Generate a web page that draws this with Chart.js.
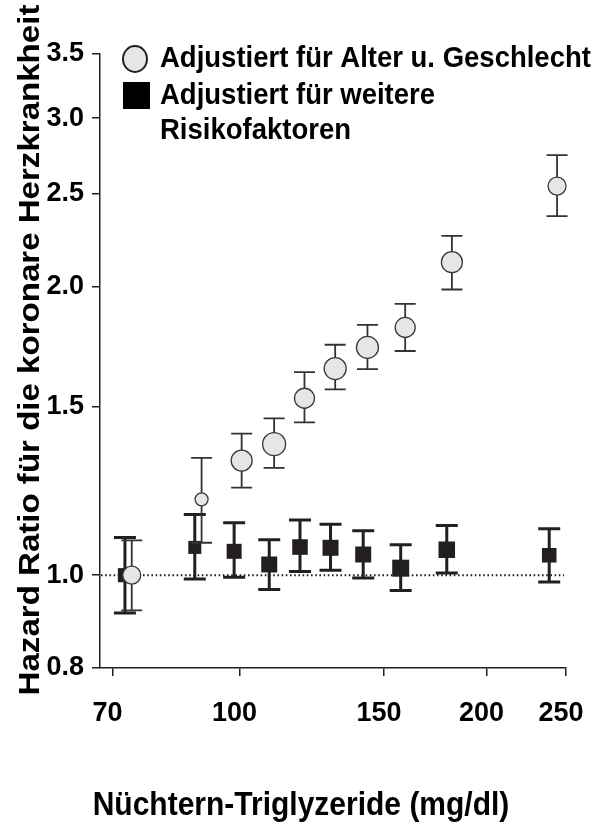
<!DOCTYPE html>
<html>
<head>
<meta charset="utf-8">
<script src="https://cdn.jsdelivr.net/npm/chart.js@4.4.1/dist/chart.umd.min.js"></script>
<style>
  body { margin: 0; background: #fff; }
  canvas { display: block; }
</style>
</head>
<body>
<canvas id="hrChart" width="602" height="825"></canvas>
<script>
// triglyceride groups, adjusted for age and sex
const tgAgeSex = [73.9, 89.9, 100.6, 110.2, 120.0, 130.8, 143.2, 159.2, 181.5, 243.8];
const hrAgeSex = [1.0, 1.20, 1.317, 1.37, 1.53, 1.643, 1.729, 1.814, 2.122, 2.548];
const loAgeSex = [0.919, 1.081, 1.234, 1.294, 1.444, 1.563, 1.641, 1.714, 1.987, 2.37];
const hiAgeSex = [1.087, 1.326, 1.405, 1.458, 1.629, 1.74, 1.825, 1.92, 2.261, 2.745];

// same groups, adjusted for further risk factors
const tgRisk = [72.5, 88.2, 98.5, 108.7, 118.5, 129.1, 141.5, 157.2, 178.9, 238.5];
const hrRisk = [1.0, 1.069, 1.059, 1.026, 1.07, 1.068, 1.051, 1.017, 1.063, 1.049];
const loRisk = [0.913, 0.991, 0.995, 0.966, 1.009, 1.012, 0.993, 0.964, 1.005, 0.984];
const hiRisk = [1.095, 1.157, 1.134, 1.089, 1.142, 1.13, 1.113, 1.076, 1.127, 1.118];

const xTicks = [70, 100, 150, 200, 250];
const yTicks = [0.8, 1.0, 1.5, 2.0, 2.5, 3.0, 3.5];

const FONT = '"Liberation Sans", Arial, Helvetica, sans-serif';
const INK = '#231f20';

function points(xs, ys) {
    return xs.map((x, i) => ({ x: x, y: ys[i] }));
}

// whiskers under each dataset, drawn right before its markers
const errorBars = {
    id: 'errorBars',
    beforeDatasetDraw(chart, args) {
        const ds = chart.data.datasets[args.index];
        if (!ds.errLow) return;
        const y = chart.scales.y;
        const ctx = chart.ctx;
        const cap = ds.errCap;
        ctx.save();
        ctx.strokeStyle = ds.errColor;
        ctx.lineWidth = ds.errWidth;
        args.meta.data.forEach((pt, i) => {
            const top = y.getPixelForValue(ds.errHigh[i]);
            const bot = y.getPixelForValue(ds.errLow[i]);
            ctx.beginPath();
            ctx.moveTo(pt.x, top);
            ctx.lineTo(pt.x, bot);
            ctx.moveTo(pt.x - cap, top);
            ctx.lineTo(pt.x + cap, top);
            ctx.moveTo(pt.x - cap, bot);
            ctx.lineTo(pt.x + cap, bot);
            ctx.stroke();
        });
        ctx.restore();
    }
};

// dotted line at HR = 1
const refLine = {
    id: 'refLine',
    beforeDatasetsDraw(chart) {
        const ctx = chart.ctx;
        const area = chart.chartArea;
        const yy = chart.scales.y.getPixelForValue(1.0);
        ctx.save();
        ctx.strokeStyle = INK;
        ctx.lineWidth = 2;
        ctx.setLineDash([1.6, 2.6]);
        ctx.beginPath();
        ctx.moveTo(area.left + 1, yy);
        ctx.lineTo(area.right - 2, yy);
        ctx.stroke();
        ctx.restore();
    }
};

function stretchedText(ctx, text, x, y, sx, sy) {
    ctx.save();
    ctx.translate(x, y);
    ctx.scale(sx, sy);
    ctx.fillText(text, 0, 0);
    ctx.restore();
}

// legend box and axis titles
const labels = {
    id: 'labels',
    afterDraw(chart) {
        const ctx = chart.ctx;
        ctx.save();
        ctx.fillStyle = '#000';
        ctx.textBaseline = 'middle';

        // legend markers
        ctx.beginPath();
        ctx.ellipse(135, 59, 12, 13, 0, 0, Math.PI * 2);
        ctx.fillStyle = '#e6e6e6';
        ctx.fill();
        ctx.lineWidth = 2;
        ctx.strokeStyle = INK;
        ctx.stroke();
        ctx.fillStyle = '#000';
        ctx.fillRect(123, 82, 27, 27);

        ctx.font = 'bold 27.5px ' + FONT;
        ctx.textAlign = 'left';
        stretchedText(ctx, 'Adjustiert für Alter u. Geschlecht', 160, 59, 1, 1.1);
        stretchedText(ctx, 'Adjustiert für weitere', 160, 96, 1, 1.1);
        stretchedText(ctx, 'Risikofaktoren', 160, 131, 1, 1.1);

        // x title
        ctx.font = 'bold 30px ' + FONT;
        ctx.textAlign = 'center';
        stretchedText(ctx, 'Nüchtern-Triglyzeride (mg/dl)', 301, 806, 1, 1.1);

        // y title, rotated
        ctx.font = 'bold 29px ' + FONT;
        ctx.save();
        ctx.translate(31, 350);
        ctx.rotate(-Math.PI / 2);
        ctx.scale(1.14, 1);
        ctx.fillText('Hazard Ratio für die koronare Herzkrankheit', 0, 0);
        ctx.restore();

        ctx.restore();
    }
};

const ctx = document.getElementById('hrChart').getContext('2d');
const chart = new Chart(ctx, {
    type: 'scatter',
    data: {
        datasets: [
            {
                label: 'Adjustiert für Alter u. Geschlecht',
                data: points(tgAgeSex, hrAgeSex),
                errLow: loAgeSex,
                errHigh: hiAgeSex,
                errColor: '#333',
                errWidth: 1.8,
                errCap: 10.5,
                pointStyle: 'circle',
                pointRadius: [9, 6.5, 10.5, 11.5, 10, 11, 11, 10, 10.5, 9],
                backgroundColor: '#e6e6e6',
                borderColor: '#3a3a3a',
                borderWidth: 1.3,
                clip: false
            },
            {
                label: 'Adjustiert für weitere Risikofaktoren',
                data: points(tgRisk, hrRisk),
                errLow: loRisk,
                errHigh: hiRisk,
                errColor: INK,
                errWidth: 3,
                errCap: 11,
                pointStyle: 'rect',
                pointRadius: [10, 9.2, 10.6, 11.3, 11, 11.3, 11.3, 12, 11.7, 10.3],
                backgroundColor: INK,
                borderWidth: 0,
                clip: false
            }
        ]
    },
    options: {
        responsive: false,
        animation: false,
        events: [],
        layout: {
            padding: { top: 54, right: 36, left: 0, bottom: 0 }
        },
        scales: {
            x: {
                type: 'logarithmic',
                min: 67.6,
                max: 250,
                afterBuildTicks: (axis) => { axis.ticks = xTicks.map(v => ({ value: v })); },
                afterFit: (axis) => {
                    axis.height = 157;
                    // keep the plot edge fixed, labels may hang over
                    axis.paddingLeft = 0;
                    axis.paddingRight = 0;
                },
                grid: {
                    drawOnChartArea: false,
                    drawTicks: true,
                    tickLength: 8,
                    color: INK,
                    lineWidth: 1.5
                },
                border: { display: true, color: INK, width: 1.5 },
                ticks: {
                    autoSkip: false,
                    maxRotation: 0,
                    padding: 21,
                    labelOffset: -5,
                    color: '#000',
                    font: { family: FONT, size: 27, weight: 'bold' },
                    callback: (v) => String(v)
                }
            },
            y: {
                type: 'logarithmic',
                min: 0.8,
                max: 3.5,
                afterBuildTicks: (axis) => { axis.ticks = yTicks.map(v => ({ value: v })); },
                afterFit: (axis) => {
                    axis.width = 100;
                    axis.paddingTop = 0;
                    axis.paddingBottom = 0;
                },
                grid: {
                    drawOnChartArea: false,
                    drawTicks: true,
                    tickLength: 8,
                    color: INK,
                    lineWidth: 1.5
                },
                border: { display: true, color: INK, width: 1.5 },
                ticks: {
                    autoSkip: false,
                    padding: 8,
                    color: '#000',
                    font: { family: FONT, size: 27, weight: 'bold' },
                    callback: (v) => Number(v).toFixed(1)
                }
            }
        },
        plugins: {
            legend: { display: false },
            tooltip: { enabled: false }
        }
    },
    plugins: [refLine, errorBars, labels]
});
</script>
</body>
</html>
